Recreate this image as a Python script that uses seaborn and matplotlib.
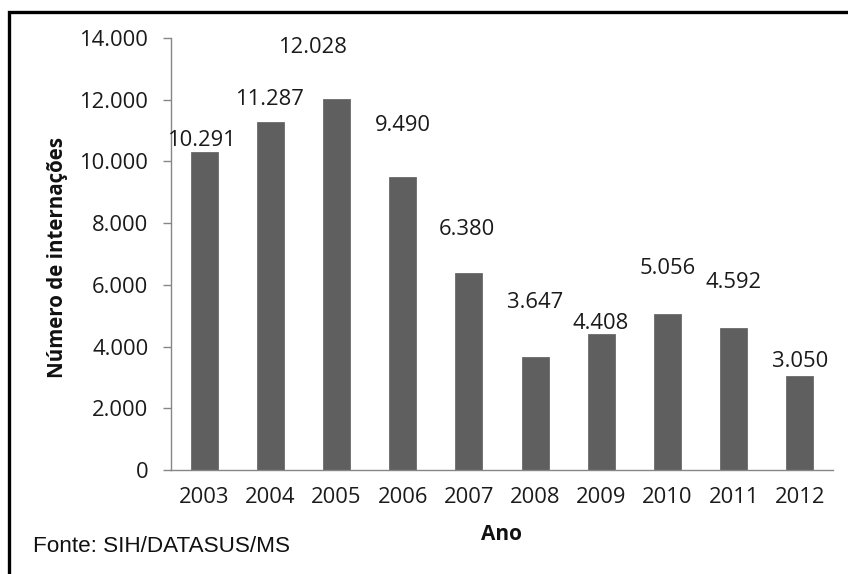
import matplotlib
matplotlib.use("Agg")
import matplotlib.pyplot as plt
from matplotlib.patches import Rectangle
from matplotlib.ticker import FuncFormatter, MultipleLocator
import seaborn as sns
import pandas as pd

anos = ["2003", "2004", "2005", "2006", "2007", "2008", "2009", "2010", "2011", "2012"]
internacoes = [10291, 11287, 12028, 9490, 6380, 3647, 4408, 5056, 4592, 3050]

# label offsets (pixels) relative to bar top, as placed in the reference
label_dx = [-3, -1, -24, 0, -2, 0, -1, 0, 0, 0]
label_dy = [14, 25, 54, 54, 46, 57, 13, 48, 48, 17]

def fmt(v):
    return f"{int(round(v)):,}".replace(",", ".")

sns.set_theme(style="white")
plt.rcParams["font.family"] = ["Open Sans", "DejaVu Sans"]

W, H = 848, 574
fig = plt.figure(figsize=(W / 100, H / 100), dpi=100)
ax = fig.add_axes([171 / W, 1 - 470 / H, (833 - 171) / W, (470 - 38) / H])

df = pd.DataFrame({"Ano": anos, "Internacoes": internacoes})
sns.barplot(data=df, x="Ano", y="Internacoes", color="#5f5f5f", saturation=1,
            width=0.41, ax=ax, edgecolor="#6a6a6a", linewidth=0.6)

ax.set_ylim(0, 14000)
ax.set_xlim(-0.5, len(anos) - 0.5)
ax.yaxis.set_major_locator(MultipleLocator(2000))
ax.yaxis.set_major_formatter(FuncFormatter(lambda v, p: fmt(v)))

for s in ["top", "right"]:
    ax.spines[s].set_visible(False)
for s in ["left", "bottom"]:
    ax.spines[s].set_color("#868686")
    ax.spines[s].set_linewidth(1.0)

ax.tick_params(axis="y", which="major", direction="out", length=5.8, width=1.0,
               color="#868686", pad=10.5, labelsize=15.8, labelcolor="#1a1a1a", left=True)
ax.tick_params(axis="x", length=0, pad=12, labelsize=15.8, labelcolor="#1a1a1a")
ax.set_xlabel("")
ax.set_ylabel("")

for i, (v, dx, dy) in enumerate(zip(internacoes, label_dx, label_dy)):
    ax.annotate(fmt(v), xy=(i, v), xytext=(dx, dy - 8), textcoords="offset pixels",
                ha="center", va="baseline", fontsize=15.8, color="#1a1a1a",
                annotation_clip=False)

fig.text(502 / W, 1 - 534 / H, "Ano", ha="center", va="center",
         fontsize=15, fontweight="bold", color="#111111")
fig.text(57 / W, 1 - 257.5 / H, "Número de internações", ha="center", va="center",
         rotation=90, fontsize=14.8, fontweight="bold", color="#111111")
fig.text(33 / W, 1 - 547 / H, "Fonte: SIH/DATASUS/MS", ha="left", va="center",
         fontsize=16.2, color="#111111", family=["Liberation Sans", "DejaVu Sans"])

# outer frame (top and left visible, extends past right/bottom edge)
fig.patches.append(Rectangle((8.5 / W, -0.1), 1.2, 1 - 11.5 / H + 0.1,
                             transform=fig.transFigure, fill=False,
                             edgecolor="black", linewidth=2.4, clip_on=False))

fig.savefig("out.png", dpi=100, facecolor="white")
